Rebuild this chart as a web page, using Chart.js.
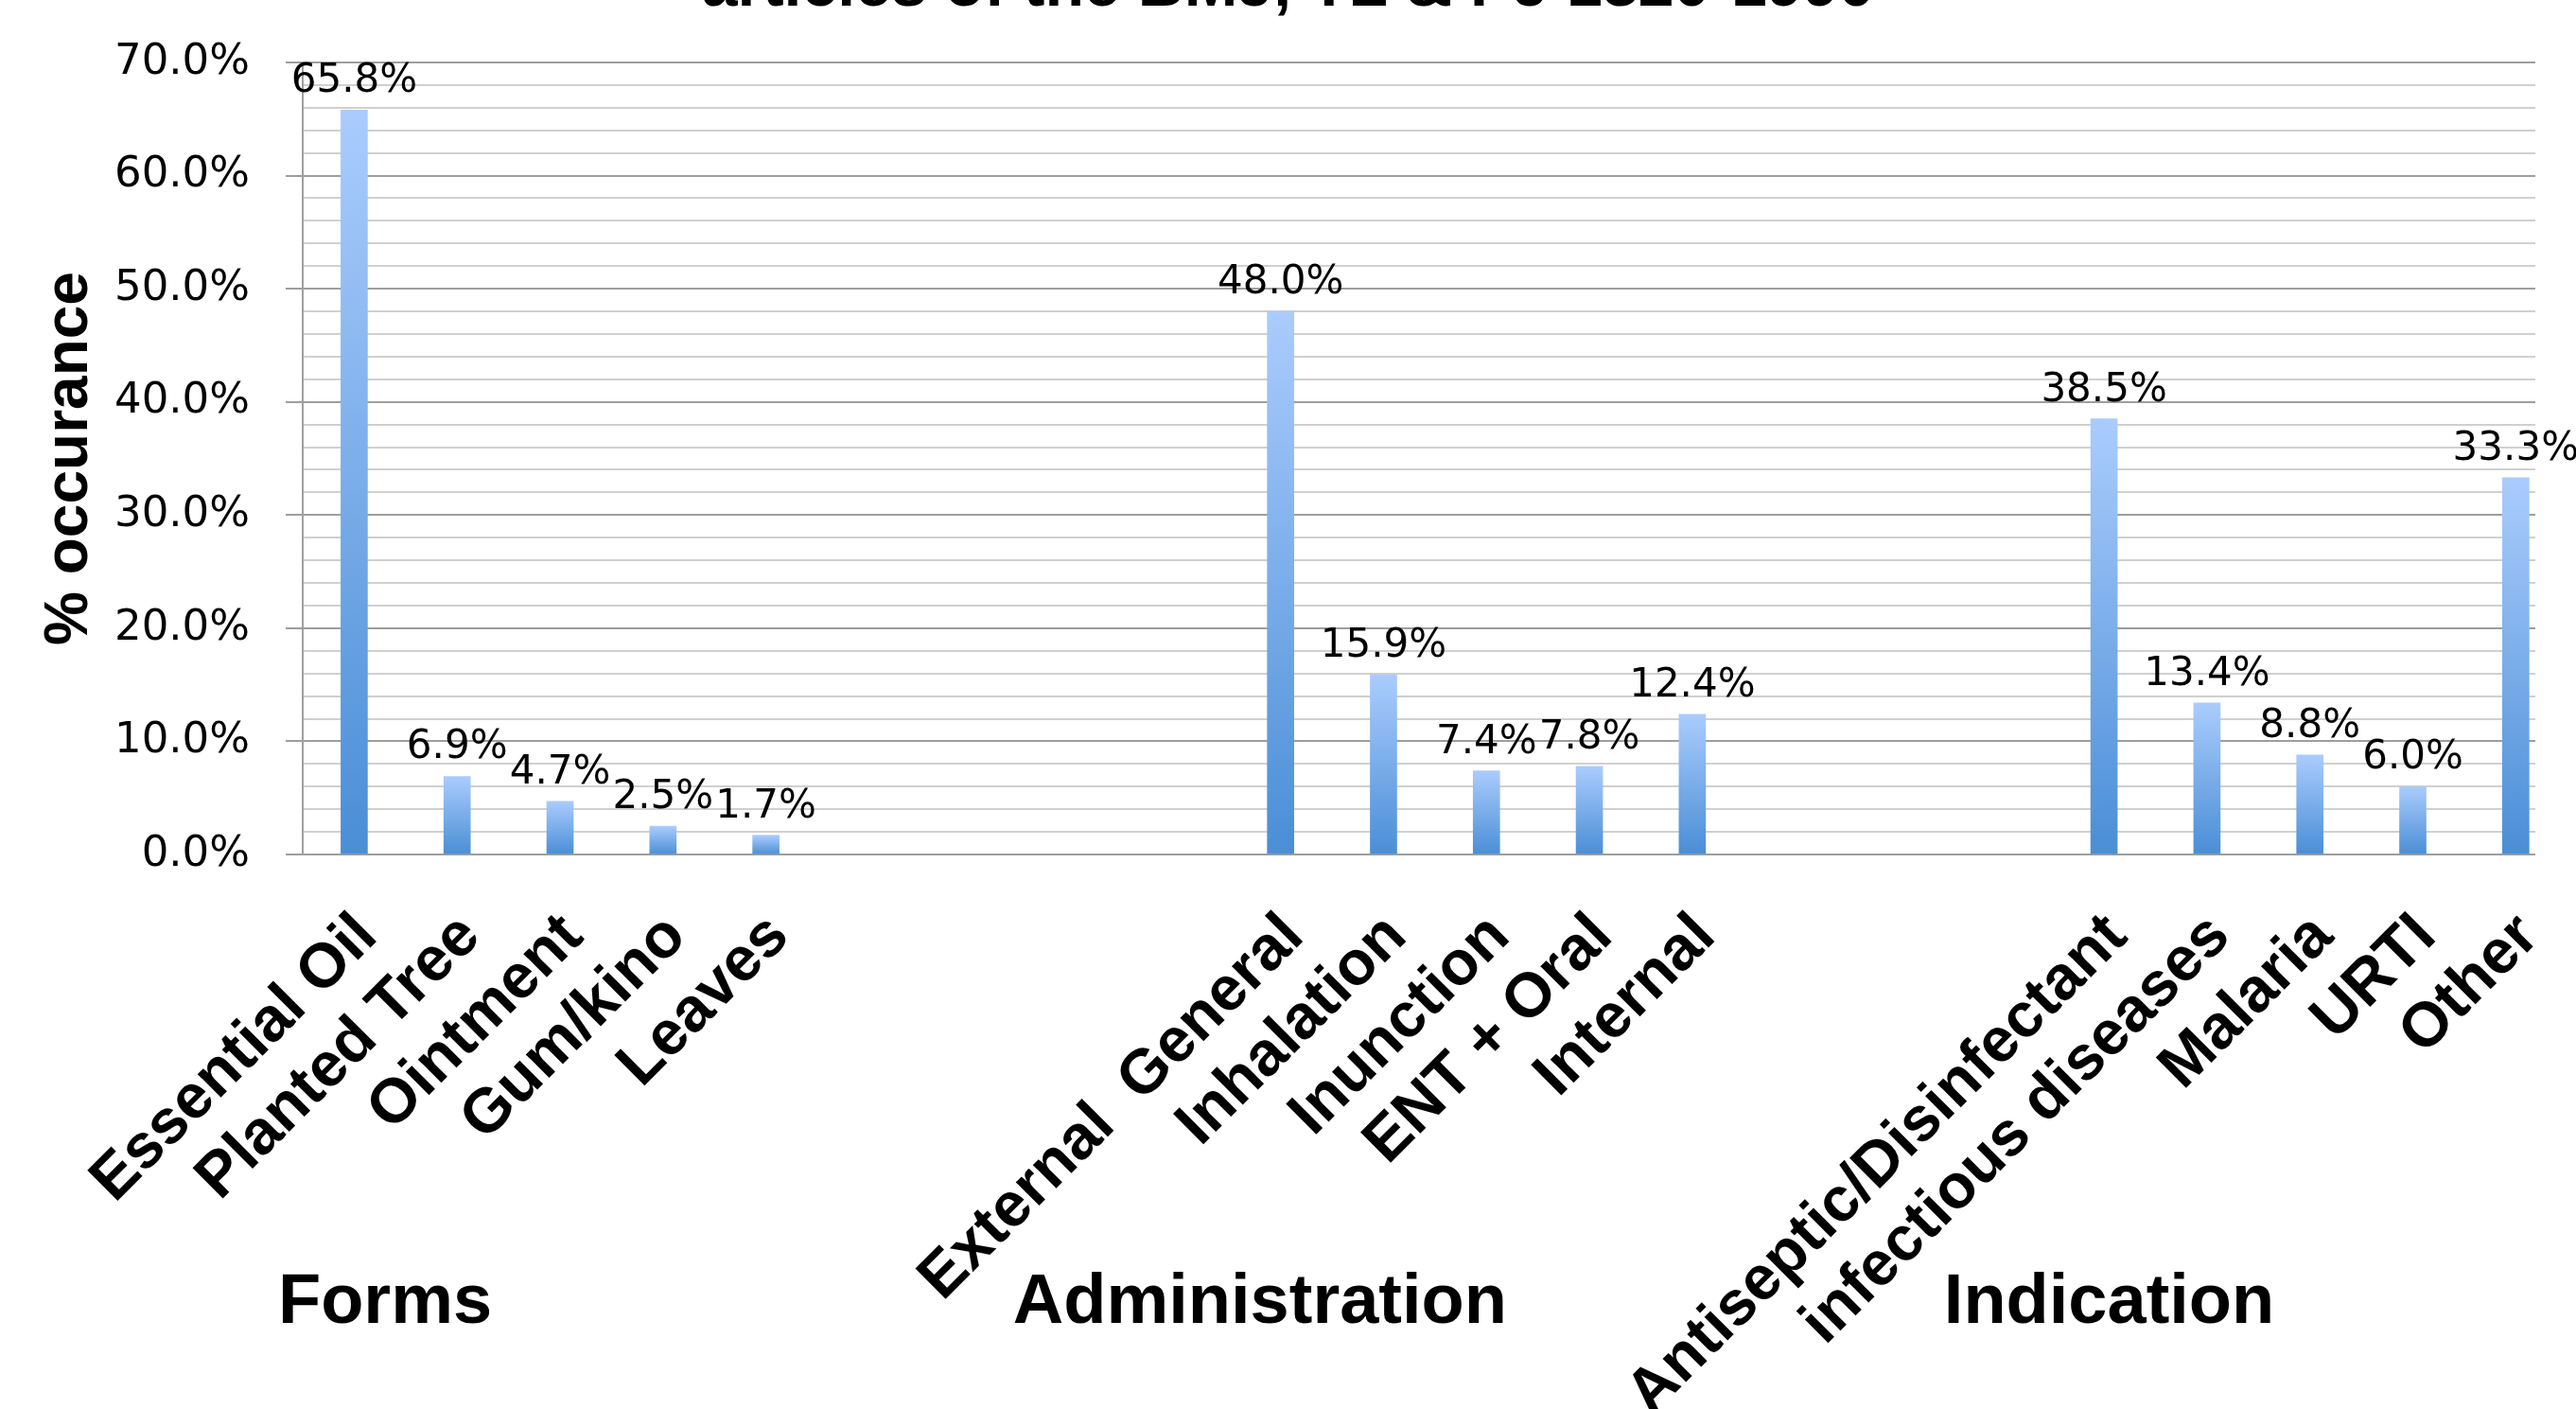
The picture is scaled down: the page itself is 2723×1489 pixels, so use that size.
<!DOCTYPE html>
<html lang="en">
<head>
<meta charset="UTF-8">
<title>% occurance</title>
<style>
  html, body { margin: 0; padding: 0; background: #fff; overflow: hidden; }
  #chart-container { width: 2723px; height: 1489px; position: relative; }
</style>
</head>
<body>
<div id="chart-container"><canvas id="chart"></canvas></div>
<script src="https://cdn.jsdelivr.net/npm/chart.js"></script>
<script>
// categories (blank entries are the gaps between the three groups)
const categories = ['Essential Oil', 'Planted Tree', 'Ointment', 'Gum/kino', 'Leaves', '', '', '', '',
  'External  General', 'Inhalation', 'Inunction', 'ENT + Oral', 'Internal', '', '', '',
  'Antiseptic/Disinfectant', 'infectious diseases', 'Malaria', 'URTI', 'Other'];
const values = [65.8, 6.9, 4.7, 2.5, 1.7, null, null, null, null,
  48.0, 15.9, 7.4, 7.8, 12.4, null, null, null,
  38.5, 13.4, 8.8, 6.0, 33.3];
const groupNames = ['Forms', 'Administration', 'Indication'];
const yMajorTicks = [0, 10, 20, 30, 40, 50, 60, 70];
const chartTitle = 'articles of the BMJ, TL & PJ 1820-1990';
const yTitle = '% occurance';

const points = [];
categories.forEach((c, i) => {
  if (values[i] !== null) points.push({ x: i, y: values[i] });
});

// bar gradient, light at the top of each bar, darker at the base
function barFill(ctx) {
  const chart = ctx.chart;
  if (!chart.chartArea || ctx.type !== 'data') return '#7AAEE8';
  const y = chart.scales.y;
  const top = y.getPixelForValue(ctx.raw.y);
  const base = y.getPixelForValue(0);
  const g = chart.ctx.createLinearGradient(0, top, 0, base);
  g.addColorStop(0, '#AACCFD');
  g.addColorStop(1, '#4A8ED6');
  return g;
}

const extras = {
  id: 'extras',
  afterDatasetsDraw(chart) {
    const c = chart.ctx;
    const meta = chart.getDatasetMeta(0);
    c.save();
    c.fillStyle = '#000';
    c.textAlign = 'center';
    c.textBaseline = 'alphabetic';
    c.font = '42px "DejaVu Sans"';
    meta.data.forEach((bar, i) => {
      const v = chart.data.datasets[0].data[i].y;
      c.fillText(v.toFixed(1) + '%', bar.x, bar.y - 19);
    });
    c.restore();
  },
  afterDraw(chart) {
    const c = chart.ctx;
    const x = chart.scales.x;
    c.save();
    c.fillStyle = '#000';
    c.textAlign = 'center';
    c.textBaseline = 'alphabetic';
    // title, cut off at the top edge as in the original
    c.font = 'bold 68px "Liberation Sans"';
    c.fillText(chartTitle, chart.width / 2, 6);
    // group names under the rotated labels
    const anchors = [0.3, 8.8, 17.05];
    c.font = 'bold 74px "Liberation Sans"';
    groupNames.forEach((g, i) => {
      c.fillText(g, x.getPixelForValue(anchors[i]), 1398);
    });
    c.restore();
  }
};

const ctx = document.getElementById('chart').getContext('2d');
const myChart = new Chart(ctx, {
  type: 'bar',
  data: {
    datasets: [{
      data: points,
      backgroundColor: barFill,
      borderWidth: 0,
      barThickness: 28
    }]
  },
  options: {
    responsive: true,
    maintainAspectRatio: false,
    animation: false,
    layout: { padding: { top: 66, right: 43, left: 0, bottom: 0 } },
    plugins: {
      legend: { display: false },
      title: { display: false },
      tooltip: { enabled: false }
    },
    scales: {
      x: {
        type: 'linear',
        min: -0.5,
        max: 21.19,
        bounds: 'data',
        offset: false,
        grid: { display: false },
        border: { display: false },
        afterBuildTicks: s => { s.ticks = categories.map((c, i) => ({ value: i })); },
        afterFit: s => {
          s.height = 586;
          s.paddingLeft = 0;
          s.paddingRight = 0;
        },
        ticks: {
          autoSkip: false,
          minRotation: 45,
          maxRotation: 45,
          padding: 40,
          labelOffset: 14,
          color: '#000',
          font: { family: 'Liberation Sans', weight: 'bold', size: 66 },
          callback: v => categories[v] || ''
        }
      },
      y: {
        min: 0,
        max: 70,
        afterFit: s => { s.width = 320; },
        border: { display: true, color: '#A0A0A0', width: 2 },
        grid: {
          lineWidth: 2,
          tickLength: 18,
          color: c => yMajorTicks.includes(c.tick.value) ? '#9E9E9E' : '#D0D0D0',
          tickColor: c => yMajorTicks.includes(c.tick.value) ? '#9E9E9E' : 'rgba(0,0,0,0)'
        },
        ticks: {
          stepSize: 2,
          autoSkip: false,
          padding: 38,
          color: '#000',
          font: { family: 'DejaVu Sans', size: 45 },
          callback: v => yMajorTicks.includes(v) ? v.toFixed(1) + '%' : ''
        },
        title: {
          display: true,
          text: yTitle,
          color: '#000',
          padding: { top: 36, bottom: 0 },
          font: { family: 'Liberation Sans', weight: 'bold', size: 64 }
        }
      }
    }
  },
  plugins: [extras]
});
</script>
</body>
</html>
